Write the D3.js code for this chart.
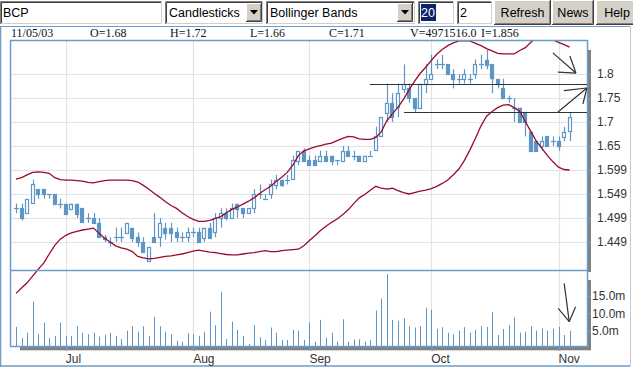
<!DOCTYPE html>
<html><head><meta charset="utf-8">
<script src="https://cdn.jsdelivr.net/npm/d3@7/dist/d3.min.js"></script>
<style>
html,body{margin:0;padding:0;background:#fff;}
svg{display:block;}
</style></head>
<body>
<svg id="chart" width="633" height="367"></svg>
<script>
// ---------------- data ----------------
const symbol = "BCP";
const chartType = "Candlesticks";
const indicator = "Bollinger Bands";
const periodText = "20";
const devText = "2";
const buttonLabels = ["Refresh", "News", "Help"];
const infoLabels = ["11/05/03", "O=1.68", "H=1.72", "L=1.66", "C=1.71", "V=4971516.0", "I=1.856"];
const firstDay = "2003-06-18", lastDay = "2003-11-05";

const openV = [1.52,1.52,1.51,1.53,1.56,1.56,1.55,1.55,1.53,1.53,
 1.52,1.53,1.52,1.50,1.50,1.49,1.46,1.45,1.46,1.46,
 1.47,1.48,1.46,1.45,1.41,1.46,1.46,1.48,1.48,1.47,
 1.46,1.46,1.47,1.47,1.46,1.48,1.47,1.50,1.51,1.50,
 1.53,1.52,1.51,1.52,1.55,1.54,1.55,1.57,1.58,1.58,
 1.58,1.62,1.64,1.62,1.62,1.62,1.63,1.63,1.62,1.62,
 1.64,1.63,1.63,1.62,1.63,1.64,1.67,1.72,1.74,1.73,
 1.77,1.77,1.75,1.73,1.78,1.79,1.82,1.82,1.82,1.80,
 1.79,1.79,1.79,1.80,1.82,1.83,1.82,1.79,1.77,1.75,
 1.73,1.73,1.72,1.68,1.66,1.65,1.67,1.66,1.66,1.67,1.68];
const highV = [1.53,1.53,1.54,1.58,1.56,1.56,1.55,1.55,1.54,1.53,
 1.53,1.53,1.52,1.51,1.51,1.50,1.465,1.46,1.48,1.48,
 1.49,1.48,1.47,1.46,1.44,1.51,1.50,1.49,1.49,1.48,
 1.47,1.48,1.48,1.48,1.48,1.49,1.51,1.52,1.52,1.53,
 1.53,1.52,1.52,1.56,1.57,1.55,1.58,1.59,1.58,1.59,
 1.63,1.64,1.645,1.63,1.63,1.64,1.64,1.63,1.62,1.65,
 1.65,1.64,1.63,1.63,1.64,1.69,1.71,1.78,1.76,1.78,
 1.82,1.78,1.75,1.78,1.82,1.84,1.83,1.84,1.82,1.81,
 1.80,1.81,1.80,1.83,1.84,1.85,1.82,1.79,1.79,1.755,
 1.75,1.73,1.72,1.68,1.66,1.67,1.67,1.67,1.67,1.69,1.72];
const lowV = [1.51,1.495,1.51,1.53,1.54,1.54,1.54,1.53,1.52,1.51,
 1.52,1.50,1.49,1.49,1.49,1.46,1.45,1.44,1.45,1.45,
 1.47,1.45,1.44,1.43,1.41,1.45,1.44,1.455,1.45,1.45,
 1.45,1.45,1.46,1.45,1.45,1.46,1.46,1.48,1.495,1.50,
 1.50,1.50,1.51,1.51,1.54,1.54,1.54,1.56,1.565,1.57,
 1.58,1.61,1.62,1.61,1.61,1.62,1.62,1.61,1.61,1.62,
 1.63,1.62,1.62,1.62,1.63,1.64,1.67,1.70,1.70,1.71,
 1.76,1.74,1.72,1.73,1.76,1.79,1.81,1.81,1.80,1.77,
 1.78,1.78,1.78,1.79,1.81,1.81,1.76,1.77,1.75,1.74,
 1.70,1.70,1.67,1.64,1.64,1.64,1.65,1.65,1.64,1.66,1.66];
const closeV = [1.52,1.50,1.54,1.57,1.55,1.55,1.55,1.53,1.53,1.51,
 1.53,1.51,1.49,1.50,1.49,1.46,1.455,1.45,1.46,1.46,
 1.49,1.46,1.45,1.43,1.44,1.45,1.49,1.47,1.47,1.46,
 1.46,1.47,1.47,1.45,1.48,1.46,1.50,1.51,1.50,1.52,
 1.52,1.51,1.52,1.55,1.55,1.54,1.57,1.58,1.57,1.58,
 1.62,1.64,1.62,1.61,1.61,1.63,1.62,1.62,1.62,1.64,
 1.63,1.63,1.62,1.63,1.63,1.67,1.71,1.74,1.71,1.76,
 1.78,1.75,1.73,1.78,1.79,1.80,1.82,1.82,1.80,1.79,
 1.79,1.80,1.79,1.82,1.82,1.82,1.79,1.78,1.75,1.75,
 1.73,1.70,1.70,1.64,1.64,1.66,1.65,1.66,1.65,1.68,1.71];
// volume in millions of shares
const volumeM = [6.1,2.9,4.4,13.4,4.0,7.3,2.9,3.5,7.3,3.5,
 3.5,6.3,4.4,4.0,4.4,3.3,3.75,4.4,3.5,2.6,
 5.0,6.3,4.7,6.3,3.5,9.0,6.3,4.7,4.0,2.1,
 1.8,4.3,4.0,3.5,4.7,10.5,6.6,16.2,2.6,7.6,
 5.2,3.5,1.2,6.6,3.1,2.3,5.9,4.4,2.3,2.3,
 5.2,5.0,2.3,7.3,1.8,8.1,3.0,4.4,1.8,8.3,
 1.8,2.5,2.5,1.8,2.3,10.8,14.3,21.3,8.1,7.8,
 8.6,6.3,5.9,6.3,11.6,11.0,5.5,6.0,4.4,4.0,
 5.0,6.0,4.4,5.2,6.3,6.1,10.3,3.75,5.5,6.6,
 8.8,4.4,4.7,6.3,5.0,5.7,5.0,5.5,6.1,3.75,4.97];
// Bollinger bands (20, 2)
const upperBand = [1.581,1.584,1.590,1.595,1.596,1.595,1.593,1.584,1.580,1.579,
 1.579,1.578,1.577,1.574,1.573,1.576,1.578,1.579,1.579,1.579,
 1.579,1.578,1.575,1.568,1.560,1.551,1.543,1.534,1.526,1.520,
 1.511,1.503,1.497,1.493,1.493,1.495,1.499,1.503,1.511,1.518,
 1.523,1.529,1.535,1.542,1.551,1.559,1.566,1.576,1.585,1.595,
 1.610,1.630,1.640,1.644,1.648,1.651,1.654,1.656,1.661,1.666,
 1.670,1.669,1.665,1.664,1.664,1.668,1.680,1.703,1.717,1.731,
 1.747,1.767,1.785,1.801,1.814,1.828,1.841,1.851,1.859,1.865,
 1.869,1.869,1.869,1.864,1.859,1.853,1.848,1.843,1.842,1.842,
 1.842,1.849,1.855,1.866,1.875,1.879,1.879,1.871,1.866,1.861,1.856];
const lowerBand = [1.343,1.354,1.365,1.379,1.393,1.406,1.425,1.443,1.456,1.464,
 1.469,1.472,1.475,1.477,1.479,1.468,1.458,1.450,1.442,1.438,
 1.435,1.430,1.420,1.417,1.415,1.416,1.418,1.420,1.421,1.423,
 1.425,1.428,1.431,1.433,1.431,1.429,1.428,1.426,1.424,1.423,
 1.423,1.425,1.427,1.428,1.430,1.432,1.430,1.430,1.432,1.433,
 1.434,1.435,1.442,1.453,1.463,1.474,1.483,1.491,1.498,1.507,
 1.517,1.530,1.542,1.549,1.558,1.566,1.562,1.560,1.562,1.557,
 1.553,1.550,1.553,1.556,1.558,1.561,1.566,1.572,1.579,1.590,
 1.602,1.620,1.642,1.666,1.692,1.712,1.722,1.730,1.735,1.736,
 1.730,1.722,1.701,1.680,1.660,1.645,1.630,1.617,1.606,1.601,1.600];

const priceTicks = [1.8, 1.75, 1.7, 1.65, 1.6, 1.55, 1.5, 1.45];
const priceTickLabels = ["1.8", "1.75", "1.7", "1.65", "1.599", "1.549", "1.499", "1.449"];
const volTicks = [15, 10, 5];
const volTickLabels = ["15.0m", "10.0m", "5.0m"];

// user-drawn annotations (bar index, price)
const levelLines = [{from: 63.9, value: 1.779}, {from: 70.1, value: 1.72}];
const priceArrows = [
  [[96.98,1.844,101.14,1.802],[100.05,1.8375,101.14,1.802],[97.89,1.804,101.14,1.802]],
  [[97.89,1.7208,103.12,1.7708],[98.97,1.7652,103.12,1.7708],[102.41,1.7375,103.12,1.7708]]
];
const volumeArrow = [[99.02,18.66,99.93,7.59],[97.94,11.45,99.93,7.59],[101.08,11.91,99.93,7.59]];

// ---------------- drawing ----------------
const svg = d3.select("#chart");
const BLUE = "#5e96c6", FRAME = "#6b9dca", BAND = "#990a2c", GRID = "#e2e2e2";
const L = 10, R = 587, T = 40, SEP = 270, B = 346;

const dates = d3.timeDay.range(d3.timeParse("%Y-%m-%d")(firstDay), d3.timeDay.offset(d3.timeParse("%Y-%m-%d")(lastDay), 1))
  .filter(d => d.getDay() !== 0 && d.getDay() !== 6);
const n = dates.length;
const x = d3.scaleLinear().domain([0, n - 1]).range([16, 569.6]);
const y = d3.scaleLinear().domain([1.45, 1.8]).range([242, 74]);
const yv = d3.scaleLinear().domain([0, 15]).range([348, 296]);
const px = i => Math.round(x(i));

// toolbar
const tb = svg.append("g").style("font-family", "'Liberation Sans',Arial,sans-serif").style("font-size", "12.5px");
function field(x0, w) {
  tb.append("rect").attr("x", x0).attr("y", 1).attr("width", w).attr("height", 23).attr("fill", "#fff");
  tb.append("path").attr("d", `M${x0+0.5},24V1.5H${x0+w}`).attr("stroke", "#808080").attr("fill", "none");
  tb.append("path").attr("d", `M${x0+1.5},23V2.5H${x0+w-1}`).attr("stroke", "#404040").attr("fill", "none");
  tb.append("path").attr("d", `M${x0+1},23.5H${x0+w-0.5}V1`).attr("stroke", "#d4d0c8").attr("fill", "none");
}
function button(x0, y0, w, h, label) {
  tb.append("rect").attr("x", x0).attr("y", y0).attr("width", w).attr("height", h).attr("fill", "#d4d0c8");
  tb.append("path").attr("d", `M${x0+0.5},${y0+h-1}V${y0+0.5}H${x0+w-1}`).attr("stroke", "#fff").attr("fill", "none");
  tb.append("path").attr("d", `M${x0},${y0+h-0.5}H${x0+w-0.5}V${y0}`).attr("stroke", "#404040").attr("fill", "none");
  tb.append("path").attr("d", `M${x0+1},${y0+h-1.5}H${x0+w-1.5}V${y0+1}`).attr("stroke", "#808080").attr("fill", "none");
  if (label) tb.append("text").attr("x", x0 + w / 2).attr("y", 17).attr("text-anchor", "middle").attr("fill", "#000").text(label);
}
function arrowBtn(x0) {
  button(x0, 3, 16, 19, null);
  const c = x0 + 8;
  tb.append("path").attr("d", `M${c-4},10H${c+4}L${c},14.5Z`).attr("fill", "#000");
}
field(0, 162);
tb.append("text").attr("x", 3).attr("y", 17).text(symbol);
field(165, 98);
tb.append("text").attr("x", 169).attr("y", 17).text(chartType);
arrowBtn(246);
field(266, 149);
tb.append("text").attr("x", 270).attr("y", 17).text(indicator);
arrowBtn(397);
field(418, 36);
tb.append("rect").attr("x", 421).attr("y", 4).attr("width", 15).attr("height", 17).attr("fill", "#0a246a");
tb.append("text").attr("x", 421).attr("y", 17).attr("fill", "#fff").text(periodText);
field(457, 35);
tb.append("text").attr("x", 460).attr("y", 17).text(devText);
button(494, 0, 57, 25, buttonLabels[0]);
button(552, 0, 42, 25, buttonLabels[1]);
button(596, 0, 42, 25, buttonLabels[2]);

// outer panel lines
svg.append("line").attr("x1", 0).attr("x2", 630).attr("y1", 26.5).attr("y2", 26.5).attr("stroke", FRAME).attr("stroke-width", 1.2);
svg.append("line").attr("x1", 0.5).attr("x2", 0.5).attr("y1", 26).attr("y2", 367).attr("stroke", FRAME).attr("stroke-width", 1.5);
svg.append("line").attr("x1", 0).attr("x2", 630).attr("y1", 366).attr("y2", 366).attr("stroke", FRAME).attr("stroke-width", 1.5);
svg.append("line").attr("x1", 630.5).attr("x2", 630.5).attr("y1", 26).attr("y2", 366).attr("stroke", "#c8c8c8");

// info line
const info = svg.append("g").style("font-family", "'Liberation Serif','Times New Roman',serif").style("font-size", "12px");
const infoX = [11, 90, 170, 250, 329, 410, 481];
infoLabels.forEach((t, i) => info.append("text").attr("x", infoX[i]).attr("y", 37).attr("fill", "#111").text(t));

// shadows
svg.append("rect").attr("x", 587).attr("y", 50).attr("width", 4).attr("height", 222).attr("fill", "#808080");
svg.append("rect").attr("x", 587).attr("y", 280).attr("width", 4).attr("height", 70).attr("fill", "#808080");
svg.append("rect").attr("x", 20).attr("y", 347).attr("width", 571).attr("height", 3.3).attr("fill", "#808080");

// plot background
svg.append("rect").attr("x", L).attr("y", T).attr("width", R - L).attr("height", B - T).attr("fill", "#fff");

// gridlines
const monthIdx = d3.range(1, n).filter(i => dates[i].getMonth() !== dates[i - 1].getMonth());
const grid = svg.append("g");
grid.selectAll("line.v").data(monthIdx).join("line")
  .attr("x1", i => px(i) + 0.5).attr("x2", i => px(i) + 0.5).attr("y1", T).attr("y2", B)
  .attr("stroke", GRID).attr("stroke-width", 1.2);
grid.selectAll("line.h").data(priceTicks).join("line")
  .attr("x1", L).attr("x2", R).attr("y1", d => Math.round(y(d)) + 0.5).attr("y2", d => Math.round(y(d)) + 0.5)
  .attr("stroke", GRID).attr("stroke-width", 1.2);

// volume bars
svg.append("g").selectAll("line").data(volumeM).join("line")
  .attr("x1", (d, i) => px(i) + 0.5).attr("x2", (d, i) => px(i) + 0.5)
  .attr("y1", d => yv(d)).attr("y2", B)
  .attr("stroke", BLUE).attr("stroke-width", 1);

// candles
const candles = d3.range(n).map(i => ({i, o: openV[i], h: highV[i], l: lowV[i], c: closeV[i]}));
const cg = svg.append("g");
cg.selectAll("line.wick").data(candles).join("line")
  .attr("x1", d => px(d.i) + 0.5).attr("x2", d => px(d.i) + 0.5)
  .attr("y1", d => y(d.h)).attr("y2", d => y(d.l))
  .attr("stroke", BLUE).attr("stroke-width", 1.2);
cg.selectAll("rect.body").data(candles.filter(d => d.o !== d.c)).join("rect")
  .attr("x", d => px(d.i) - 1.5).attr("width", 3)
  .attr("y", d => Math.round(y(Math.max(d.o, d.c))) + 0.5)
  .attr("height", d => Math.max(1, Math.round(Math.abs(y(d.o) - y(d.c)))))
  .attr("fill", d => d.c > d.o ? "#fff" : BLUE)
  .attr("stroke", BLUE).attr("stroke-width", 1.2);
cg.selectAll("line.doji").data(candles.filter(d => d.o === d.c)).join("line")
  .attr("x1", d => px(d.i) - 2).attr("x2", d => px(d.i) + 3)
  .attr("y1", d => Math.round(y(d.o)) + 0.5).attr("y2", d => Math.round(y(d.o)) + 0.5)
  .attr("stroke", BLUE).attr("stroke-width", 1.2);

// bands
svg.append("clipPath").attr("id", "bandClip").append("rect").attr("x", L).attr("y", T).attr("width", R - L).attr("height", B - T);
const bandLine = d3.line().x((d, i) => x(i)).y(d => y(d));
const bg = svg.append("g").attr("clip-path", "url(#bandClip)");
[upperBand, lowerBand].forEach(b => bg.append("path").attr("d", bandLine(b))
  .attr("fill", "none").attr("stroke", BAND).attr("stroke-width", 1.3));

// frame
const fr = svg.append("g").attr("fill", "none").attr("stroke", FRAME).attr("stroke-width", 1.5);
fr.append("rect").attr("x", L + 0.5).attr("y", T + 0.5).attr("width", R - L).attr("height", B - T);
fr.append("line").attr("x1", L).attr("x2", R).attr("y1", SEP + 0.5).attr("y2", SEP + 0.5);

// annotations
const an = svg.append("g").attr("stroke", "#333").attr("stroke-width", 1.2).attr("fill", "none");
levelLines.forEach(l => an.append("line").attr("x1", x(l.from)).attr("x2", R)
  .attr("y1", Math.round(y(l.value)) + 0.5).attr("y2", Math.round(y(l.value)) + 0.5));
priceArrows.flat().forEach(s => an.append("line").attr("x1", x(s[0])).attr("y1", y(s[1])).attr("x2", x(s[2])).attr("y2", y(s[3])));
volumeArrow.forEach(s => an.append("line").attr("x1", x(s[0])).attr("y1", yv(s[1])).attr("x2", x(s[2])).attr("y2", yv(s[3])));

// axes
const axFont = "'Liberation Sans',Arial,sans-serif";
function styleAxis(g) {
  g.select(".domain").remove();
  g.selectAll(".tick line").attr("stroke", FRAME).attr("stroke-width", 1.5);
  g.selectAll(".tick text").attr("fill", "#333").style("font-family", axFont).style("font-size", "12px");
}
svg.append("g").attr("transform", `translate(${R},0)`)
  .call(d3.axisRight(y).tickValues(priceTicks).tickFormat((d, i) => priceTickLabels[i]).tickSize(4).tickPadding(6))
  .call(styleAxis);
svg.append("g").attr("transform", `translate(${R},0)`)
  .call(d3.axisRight(yv).tickValues(volTicks).tickFormat((d, i) => volTickLabels[i]).tickSize(4).tickPadding(1))
  .call(styleAxis);
const fmtMonth = d3.timeFormat("%b");
const xAxis = svg.append("g").attr("transform", `translate(0.5,${B})`)
  .call(d3.axisBottom(x).tickValues(monthIdx).tickFormat(i => fmtMonth(dates[i])).tickSize(5).tickPadding(3))
  .call(styleAxis);
xAxis.selectAll(".tick text").attr("text-anchor", "start").attr("x", -1);
</script>
</body></html>
